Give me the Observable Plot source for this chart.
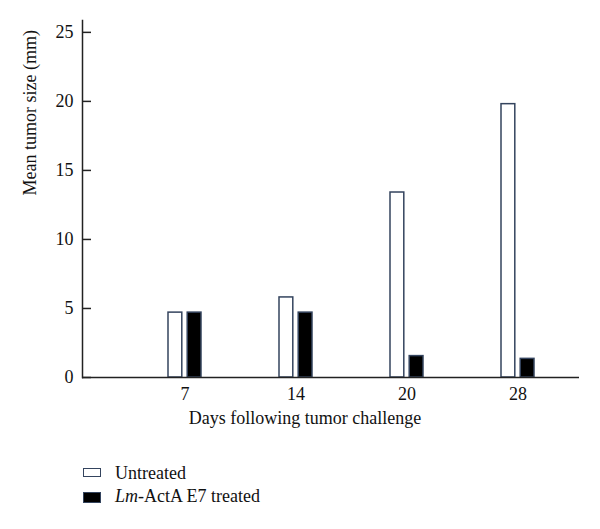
<!DOCTYPE html>
<html><head><meta charset="utf-8">
<script src="https://cdn.jsdelivr.net/npm/d3@7"></script>
<script src="https://cdn.jsdelivr.net/npm/@observablehq/plot@0.6"></script>
<style>
body{margin:0;background:#fff;font-family:"Liberation Serif",serif;}
#wrap{position:relative;width:600px;height:529px;background:#fff;}
#legend{position:absolute;left:0;top:450px;width:600px;height:79px;font-size:18px;line-height:18px;color:#111;}
.sw{position:absolute;left:83px;width:18px;box-sizing:border-box;border:1.5px solid #34445e;}
.lab{position:absolute;left:115px;white-space:nowrap;}
</style></head><body><div id="wrap"><div id="chart"></div><div id="legend"></div></div>
<script>
const days = ["7", "14", "20", "28"];
const untreated = [4.7, 5.8, 13.4, 19.8];
const treated = [4.7, 4.7, 1.55, 1.35];
const yTicks = [0, 5, 10, 15, 20, 25];
const seriesNames = ["Untreated", "Lm-ActA E7 treated"];
const xTitle = "Days following tumor challenge";
const yTitle = "Mean tumor size (mm)";

const rowsU = days.map((d, i) => ({day: d, v: untreated[i]}));
const rowsT = days.map((d, i) => ({day: d, v: treated[i]}));

const axisColor = "#222";
const outline = "#34445e";
const fs = 18;

const chart = Plot.plot({
  width: 600, height: 450,
  marginLeft: 82, marginRight: 21, marginTop: 20, marginBottom: 73,
  style: {fontFamily: "'Liberation Serif', serif", fontSize: fs + "px", color: "#111", background: "#fff"},
  x: {type: "band", domain: days, range: [129.5, 573.5], paddingInner: 0.7, paddingOuter: 0.35, label: null},
  y: {domain: [0, 25.86], label: null},
  marks: [
    Plot.barY(rowsU, {x: "day", y: "v", fill: "#fff", stroke: outline, strokeWidth: 1.5, insetRight: 19.2}),
    Plot.barY(rowsT, {x: "day", y: "v", fill: "#000", stroke: outline, strokeWidth: 1.5, insetLeft: 19.2}),
    Plot.ruleY([0], {stroke: axisColor, strokeWidth: 1.5}),
    Plot.frame({anchor: "left", stroke: axisColor, strokeWidth: 1.5}),
    Plot.tickY(yTicks, {y: d => d, stroke: axisColor, strokeWidth: 1.5, insetRight: 488}),
    Plot.axisY({ticks: yTicks, tickSize: 0, tickPadding: 9, label: null, fontSize: fs}),
    Plot.axisX({tickSize: 0, tickPadding: 10, label: null, fontSize: fs}),
    Plot.text([xTitle], {frameAnchor: "bottom", dx: -26, dy: 46.5, fontSize: fs, fill: "#111"}),
    Plot.text([yTitle], {frameAnchor: "left", rotate: -90, dx: -52.5, dy: -3.5, fontSize: fs, fill: "#111"})
  ]
});
document.getElementById("chart").appendChild(chart);

const legend = document.getElementById("legend");
legend.innerHTML =
  `<div class="sw" style="top:17.5px;height:9px;background:#fff"></div>` +
  `<div class="lab" style="top:13.9px">${seriesNames[0]}</div>` +
  `<div class="sw" style="top:42px;height:11px;background:#000"></div>` +
  `<div class="lab" style="top:36.9px"><i>${seriesNames[1].slice(0, 2)}</i>${seriesNames[1].slice(2)}</div>`;
</script></body></html>
